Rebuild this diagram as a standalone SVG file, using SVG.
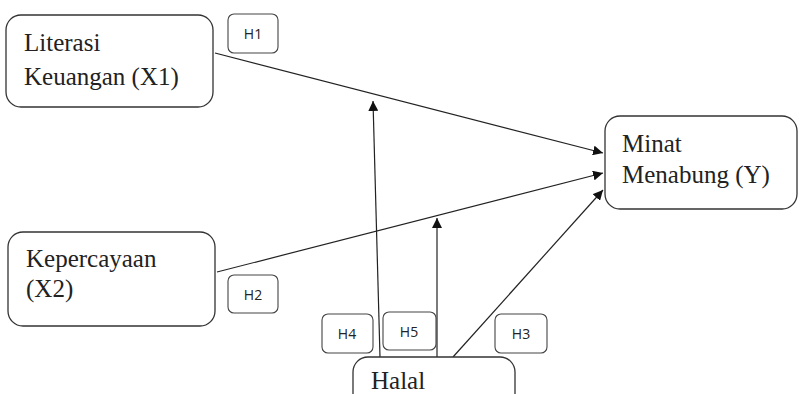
<svg xmlns="http://www.w3.org/2000/svg" width="800" height="394" viewBox="0 0 800 394">
<style>
.node{fill:#fff;stroke:#333;stroke-width:1.3}
.lbl{fill:#fff;stroke:#444;stroke-width:1.1}
.t{font-family:"Liberation Serif",serif;font-size:25px;fill:#222}
.h{font-family:"Open Sans",sans-serif;font-size:14px;fill:#222;text-anchor:middle}
.c{stroke:#222;stroke-width:1.2;fill:none;marker-end:url(#ah)}
</style>
<defs>
<marker id="ah" viewBox="0 0 10 10" refX="10" refY="5" markerWidth="10" markerHeight="10" markerUnits="userSpaceOnUse" orient="auto">
<path d="M0,0 L10,5 L0,10 Z" fill="#111"/>
</marker>
</defs>
<rect width="800" height="394" fill="#fff"/>
<g id="connectors">
<line class="c" x1="215" y1="53" x2="603" y2="153"/>
<line class="c" x1="217" y1="272" x2="603" y2="173"/>
<line class="c" x1="453" y1="357" x2="603" y2="190"/>
<line class="c" x1="380" y1="357" x2="373" y2="101"/>
<line class="c" x1="437" y1="357" x2="437" y2="218"/>
</g>
<g id="x1">
<rect class="node" x="6" y="15" width="207" height="92" rx="15"/>
<text class="t" x="24" y="51">Literasi</text>
<text class="t" x="24" y="85">Keuangan (X1)</text>
</g>
<g id="x2">
<rect class="node" x="8" y="232" width="207" height="94" rx="15"/>
<text class="t" x="26" y="267">Kepercayaan</text>
<text class="t" x="26" y="297">(X2)</text>
</g>
<g id="y">
<rect class="node" x="605" y="116" width="192" height="93" rx="15"/>
<text class="t" x="622" y="152">Minat</text>
<text class="t" x="622" y="183">Menabung (Y)</text>
</g>
<g id="m">
<rect class="node" x="353" y="357" width="162" height="70" rx="15"/>
<text class="t" x="371" y="389">Halal</text>
</g>
<g id="h1"><rect class="lbl" x="228" y="14" width="50" height="39" rx="6"/><text class="h" x="253" y="39">H1</text></g>
<g id="h2"><rect class="lbl" x="228" y="275" width="50" height="38" rx="6"/><text class="h" x="253" y="300">H2</text></g>
<g id="h3"><rect class="lbl" x="495" y="314" width="52" height="39" rx="6"/><text class="h" x="521" y="339">H3</text></g>
<g id="h4"><rect class="lbl" x="322" y="314" width="51" height="39" rx="6"/><text class="h" x="347" y="339">H4</text></g>
<g id="h5"><rect class="lbl" x="383" y="312" width="53" height="38" rx="6"/><text class="h" x="409" y="337">H5</text></g>
</svg>
